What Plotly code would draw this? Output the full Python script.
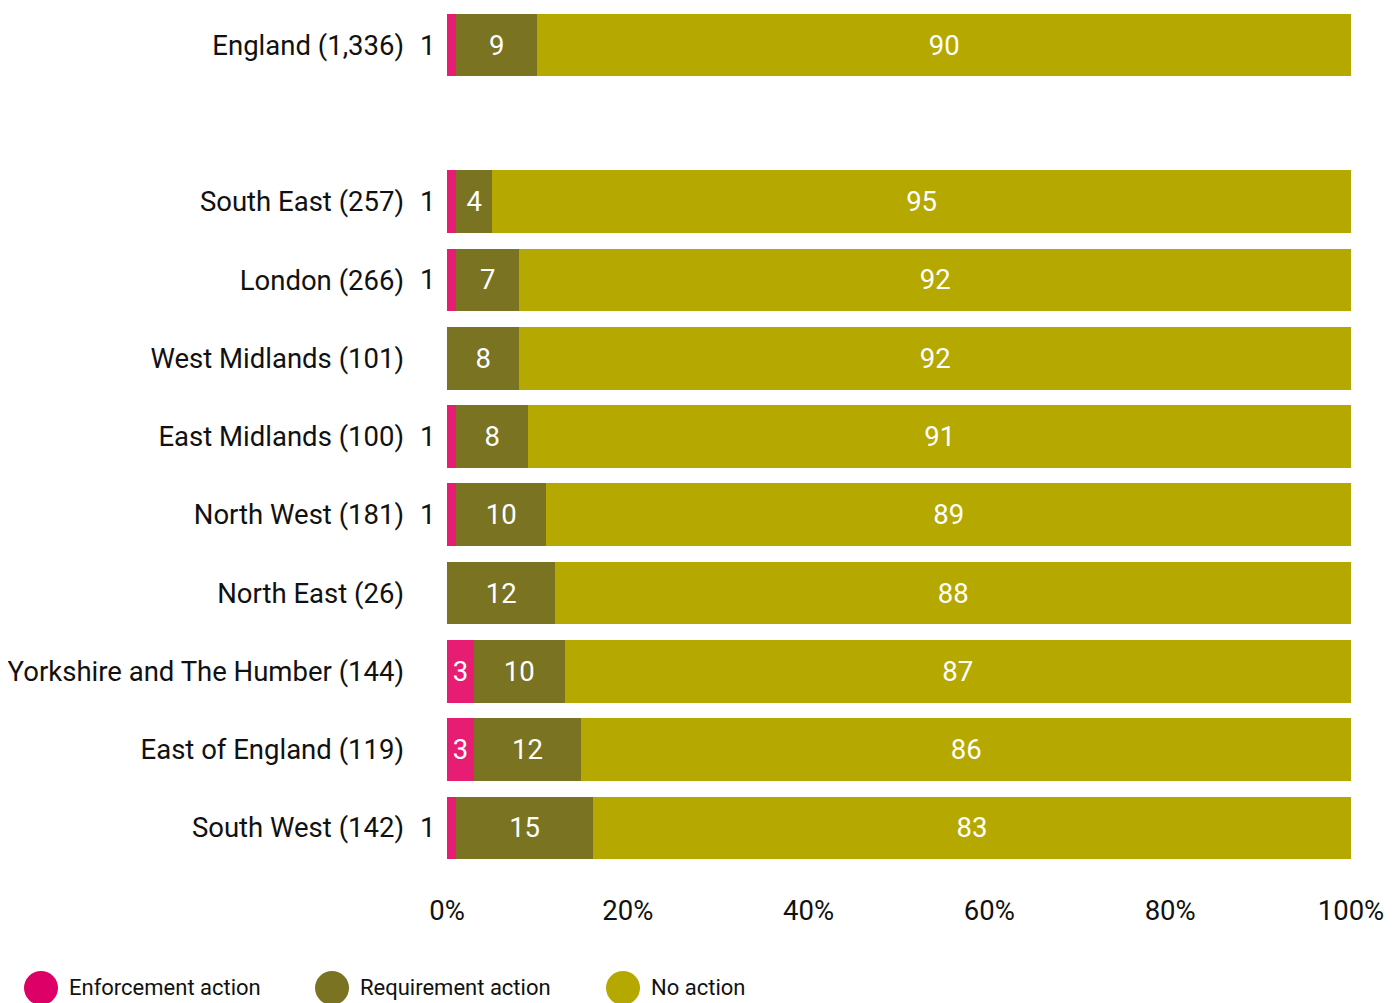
import plotly.graph_objects as go

# regions, top to bottom (None = blank spacer row)
regions = ["England (1,336)", None, "South East (257)", "London (266)",
           "West Midlands (101)", "East Midlands (100)", "North West (181)",
           "North East (26)", "Yorkshire and The Humber (144)",
           "East of England (119)", "South West (142)"]
enforcement = [1, None, 1, 1, 0, 1, 1, 0, 3, 3, 1]
requirement = [9, None, 4, 7, 8, 8, 10, 12, 10, 12, 15]
no_action = [90, None, 95, 92, 92, 91, 89, 88, 87, 86, 83]

series_names = ["Enforcement action", "Requirement action", "No action"]
colors = ["#E61D72", "#7A7322", "#B5A800"]
legend_colors = ["#DD0066", "#7A7322", "#B5A800"]
pct_ticks = [0, 20, 40, 60, 80, 100]

FONT = "Roboto"
FS = 27.5

rows = [i for i, r in enumerate(regions) if r is not None]
labels = [regions[i] for i in rows]

fig = go.Figure()
for name, vals, col in zip(series_names, [enforcement, requirement, no_action], colors):
    v = [vals[i] for i in rows]
    if name == "Enforcement action":
        txt = [str(x) if x >= 2 else "" for x in v]
    else:
        txt = [str(x) for x in v]
    fig.add_trace(go.Bar(
        y=rows, x=v, name=name, orientation="h",
        marker=dict(color=col, line=dict(width=0)),
        text=txt, textposition="inside", insidetextanchor="middle",
        textfont=dict(color="white", size=FS, family=FONT),
        hoverinfo="skip", showlegend=False,
    ))

# small enforcement values shown left of the bar
annotations = []
for i in rows:
    if enforcement[i] == 1:
        annotations.append(dict(x=0, y=i, xref="x", yref="y", text="1",
                                showarrow=False, xanchor="right", xshift=-10,
                                font=dict(size=FS, color="#111111", family=FONT)))

# custom legend with big round markers
shapes = []
leg_x = [-0.4491, -0.1272, 0.1947]
leg_y = -0.1408
for lx, name, col in zip(leg_x, series_names, legend_colors):
    shapes.append(dict(type="circle", xref="paper", yref="paper",
                       xsizemode="pixel", ysizemode="pixel",
                       xanchor=lx, yanchor=leg_y, x0=-17, x1=17, y0=-17, y1=17,
                       fillcolor=col, line=dict(width=0)))
    annotations.append(dict(x=lx, y=leg_y, xref="paper", yref="paper", text=name,
                            showarrow=False, xanchor="left", yanchor="middle", xshift=26,
                            font=dict(size=22, color="#111111", family=FONT)))

fig.update_layout(
    width=1385, height=995,
    barmode="stack", barnorm="percent", bargap=0.2,
    paper_bgcolor="white", plot_bgcolor="white",
    margin=dict(l=439, r=42, t=0, b=136),
    font=dict(family=FONT, size=FS, color="#111111"),
    xaxis=dict(range=[0, 100], tickvals=pct_ticks,
               ticktext=[f"{t}%" for t in pct_ticks],
               showgrid=False, zeroline=False, showline=False,
               ticks="", ticklabelstandoff=24, fixedrange=True),
    yaxis=dict(tickvals=rows, ticktext=labels, range=[10.5, -0.474],
               showgrid=False, zeroline=False, showline=False,
               ticks="", ticklabelstandoff=42, fixedrange=True),
    shapes=shapes, annotations=annotations,
    uniformtext=dict(minsize=10, mode="show"),
)

fig.write_html("out.html")
